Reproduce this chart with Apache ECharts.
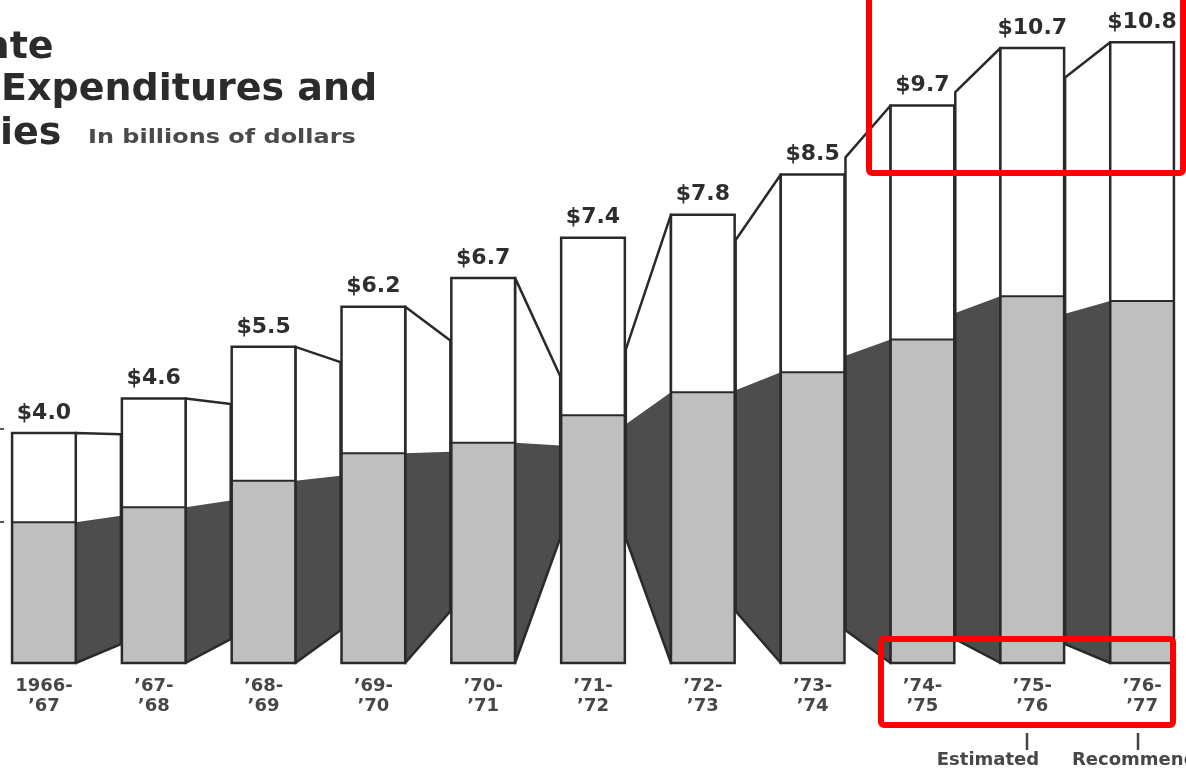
<!DOCTYPE html>
<html>
<head>
<meta charset="utf-8">
<script src="https://cdn.jsdelivr.net/npm/echarts@6/dist/echarts.min.js"></script>
<style>
html,body{margin:0;padding:0;background:#fff;}
#chart{width:1186px;height:769px;}
</style>
</head>
<body>
<div id="chart"></div>
<script>
// ---- data ----
const categories = ['1966-\n’67', '’67-\n’68', '’68-\n’69', '’69-\n’70', '’70-\n’71', '’71-\n’72', '’72-\n’73', '’73-\n’74', '’74-\n’75', '’75-\n’76', '’76-\n’77'];
const totalValues = [4.0, 4.6, 5.5, 6.2, 6.7, 7.4, 7.8, 8.5, 9.7, 10.7, 10.8];
const lowerValues = [2.45, 2.71, 3.17, 3.65, 3.83, 4.31, 4.71, 5.06, 5.63, 6.38, 6.30];
const valueLabels = ['$4.0', '$4.6', '$5.5', '$6.2', '$6.7', '$7.4', '$7.8', '$8.5', '$9.7', '$10.7', '$10.8'];
const titleLines = ['ate', 'Expenditures and', 'ies'];
const subtitle = 'In billions of dollars';
const noteLabels = ['Estimated', 'Recommended'];

// ---- styles ----
const LINE = '#2a2a2a';
const LIGHT = '#bfbfbf';
const DARK = '#4d4d4d';
const FONT = '"DejaVu Sans", "Liberation Sans", sans-serif';
const CENTER_INDEX = 5;     // bar facing the viewer (no side visible)
const HORIZON_VALUE = 3.75; // eye level for the perspective sides

const seriesData = categories.map((c, i) => [i, totalValues[i], lowerValues[i]]);

function renderItem(params, api) {
  const i = api.value(0);
  const total = api.value(1);
  const low = api.value(2);
  const base = api.coord([i, 0]);
  const band = api.size([1, 0])[0];
  const w = band * 0.58;
  const xl = base[0] - w / 2, xr = base[0] + w / 2;
  const yb = base[1];
  const yt = api.coord([i, total])[1];
  const yg = api.coord([i, low])[1];
  const vx = api.coord([CENTER_INDEX, 0])[0];
  const vy = api.coord([CENTER_INDEX, HORIZON_VALUE])[1];
  const children = [];
  if (i !== CENTER_INDEX) {
    const gap = band - w - 1;
    let xe, xf;
    if (i < CENTER_INDEX) { xe = xr; xf = xr + gap; } else { xe = xl; xf = xl - gap; }
    const f = (xf - xe) / (vx - xe);
    const p = y => y + f * (vy - y);
    children.push({
      type: 'polygon',
      shape: { points: [[xe, yt], [xf, p(yt)], [xf, p(yb)], [xe, yb]] },
      style: { fill: '#ffffff', stroke: null }
    });
    children.push({
      type: 'polygon',
      shape: { points: [[xe, yg], [xf, p(yg)], [xf, p(yb)], [xe, yb]] },
      style: { fill: DARK, stroke: null }
    });
    children.push({
      type: 'polygon',
      shape: { points: [[xe, yt], [xf, p(yt)], [xf, p(yb)], [xe, yb]] },
      style: { fill: null, stroke: LINE, lineWidth: 2.5, lineJoin: 'round' }
    });
  }
  children.push({
    type: 'rect',
    shape: { x: xl, y: yt, width: w, height: yb - yt },
    style: { fill: '#ffffff' }
  });
  children.push({
    type: 'rect',
    shape: { x: xl, y: yg, width: w, height: yb - yg },
    style: { fill: LIGHT }
  });
  children.push({
    type: 'line',
    shape: { x1: xl, y1: yg, x2: xr, y2: yg },
    style: { stroke: LINE, lineWidth: 2 }
  });
  children.push({
    type: 'rect',
    shape: { x: xl, y: yt, width: w, height: yb - yt },
    style: { fill: null, stroke: LINE, lineWidth: 2.5 }
  });
  children.push({
    type: 'text',
    style: {
      text: valueLabels[i], x: base[0], y: yt - 9,
      align: 'center', verticalAlign: 'bottom',
      fill: '#2e2e2e', font: 'bold 22px ' + FONT
    }
  });
  children.push({
    type: 'text',
    style: {
      text: categories[i], x: base[0], y: yb + 13,
      align: 'center', verticalAlign: 'top', lineHeight: 20,
      fill: '#474747', font: 'bold 18px ' + FONT
    }
  });
  return { type: 'group', children: children };
}

const chart = echarts.init(document.getElementById('chart'));
chart.setOption({
  backgroundColor: '#ffffff',
  animation: false,
  grid: { left: 0, right: 0, top: 2, bottom: 106, containLabel: false },
  xAxis: { type: 'value', min: -0.4, max: 10.4, show: false, splitLine: { show: false } },
  yAxis: { type: 'value', min: 0, max: 11.5, show: false, splitLine: { show: false } },
  series: [{
    type: 'custom',
    name: 'Expenditures',
    renderItem: renderItem,
    data: seriesData,
    encode: { x: 0, y: 1 },
    clip: false
  }],
  graphic: [
    { type: 'text', left: -16, top: 29, style: { text: titleLines[0], font: 'bold 38px ' + FONT, fill: '#2b2b2b' } },
    { type: 'text', left: 1, top: 71, style: { text: titleLines[1], font: 'bold 38px ' + FONT, fill: '#2b2b2b' } },
    { type: 'text', left: 0, top: 115, style: { text: titleLines[2], font: 'bold 38px ' + FONT, fill: '#2b2b2b' } },
    { type: 'text', x: 88, y: 138, scaleX: 1.26, style: { text: subtitle, font: 'bold 19px ' + FONT, fill: '#4a4a4a', verticalAlign: 'middle' } },
    { type: 'line', shape: { x1: 0, y1: 429, x2: 4, y2: 429 }, style: { stroke: '#555', lineWidth: 2 } },
    { type: 'line', shape: { x1: 0, y1: 522, x2: 4, y2: 522 }, style: { stroke: '#555', lineWidth: 2 } },
    { type: 'line', shape: { x1: 1027, y1: 733, x2: 1027, y2: 750 }, style: { stroke: '#444', lineWidth: 2.5 } },
    { type: 'line', shape: { x1: 1138, y1: 733, x2: 1138, y2: 750 }, style: { stroke: '#444', lineWidth: 2.5 } },
    { type: 'text', x: 988, y: 760, style: { text: noteLabels[0], font: 'bold 18px ' + FONT, fill: '#474747', align: 'center', verticalAlign: 'middle' } },
    { type: 'text', x: 1072, y: 760, style: { text: noteLabels[1], font: 'bold 18px ' + FONT, fill: '#474747', align: 'left', verticalAlign: 'middle' } },
    { type: 'rect', shape: { x: 869, y: -10, width: 314, height: 183, r: 3 }, style: { fill: null, stroke: '#ff0000', lineWidth: 6 }, z: 100 },
    { type: 'rect', shape: { x: 881, y: 639, width: 292, height: 86, r: 3 }, style: { fill: null, stroke: '#ff0000', lineWidth: 6 }, z: 100 }
  ]
});
</script>
</body>
</html>
